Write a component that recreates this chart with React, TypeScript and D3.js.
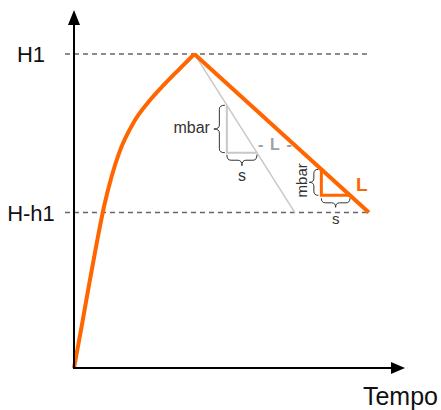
import React from 'react';
import * as d3 from 'd3';

// rise curve (time, pressure)
const riseTime = [0, 0.25, 0.5, 0.75, 1.0, 1.25, 1.5, 2.0, 2.5, 3.0, 3.5, 4.0];
const risePressure = [0, 1.3, 2.65, 3.95, 5.15, 6.1, 6.85, 7.85, 8.5, 9.03, 9.52, 10.0];

// straight decay (orange) and steeper reference decay (gray)
const decayTime = [4.0, 9.8];
const decayPressure = [10.0, 4.95];
const refTime = [4.0, 7.34];
const refPressure = [10.0, 4.95];

// horizontal reference levels
const levelLabels = ['H1', 'H-h1'];
const levelValues = [10.0, 4.95];

// slope triangles: start time and width "s" along each line
const triStart = [5.08, 8.22];
const triWidth = [1.0, 0.95];

const W = 441;
const H = 410;
const FONT = '"Liberation Sans", Arial, sans-serif';
const ORANGE = '#ff6600';

const x = d3.scaleLinear().domain([0, 11]).range([74, 405]);
const y = d3.scaleLinear().domain([0, 11.4]).range([368, 10]);

// curly brace from p1 to p2; bulges to the right of the p1->p2 direction
function brace(x1: number, y1: number, x2: number, y2: number, depth: number) {
  const dx = x2 - x1;
  const dy = y2 - y1;
  const len = Math.hypot(dx, dy);
  const ux = dx / len;
  const uy = dy / len;
  const nx = -uy;
  const ny = ux;
  const h = depth / 2;
  const r = Math.min(4, len / 6);
  const p = (u: number, v: number) => `${x1 + ux * u + nx * v},${y1 + uy * u + ny * v}`;
  return [
    `M${p(0, 0)}`,
    `Q${p(0, h)} ${p(r, h)}`,
    `L${p(len / 2 - r, h)}`,
    `Q${p(len / 2, h)} ${p(len / 2, depth)}`,
    `Q${p(len / 2, h)} ${p(len / 2 + r, h)}`,
    `L${p(len - r, h)}`,
    `Q${p(len, h)} ${p(len, 0)}`,
  ].join(' ');
}

function lineAt(times: number[], vals: number[], t: number) {
  const k = (vals[1] - vals[0]) / (times[1] - times[0]);
  return vals[0] + (t - times[0]) * k;
}

export default function App() {
  const riseLine = d3
    .line<number>()
    .x((_, i) => x(riseTime[i]))
    .y((d) => y(d))
    .curve(d3.curveMonotoneX);

  const straight = (ts: number[], vs: number[]) =>
    d3.line<number>().x((_, i) => x(ts[i])).y((d) => y(d))(vs) || '';

  const axisX0 = x(0);
  const axisY0 = y(0);
  const topY = y(11.4);
  const rightX = x(11);

  // gray triangle on the reference line
  const g0 = triStart[0];
  const g1 = g0 + triWidth[0];
  const gTop = lineAt(refTime, refPressure, g0);
  const gBot = lineAt(refTime, refPressure, g1);
  // orange triangle on the decay line
  const o0 = triStart[1];
  const o1 = o0 + triWidth[1];
  const oTop = lineAt(decayTime, decayPressure, o0);
  const oBot = lineAt(decayTime, decayPressure, o1);

  return (
    <svg
      width={W}
      height={H}
      style={{ position: 'absolute', left: 0, top: 0, background: '#fff' }}
      fontFamily={FONT}
    >
      {/* level lines */}
      {levelValues.map((v, i) => (
        <g key={levelLabels[i]}>
          <line
            x1={x(-0.3)}
            x2={x(9.83)}
            y1={y(v)}
            y2={y(v)}
            stroke="#666"
            strokeWidth={1.5}
            strokeDasharray="5 4"
          />
          <text x={x(-1.43)} y={y(v) + 8} textAnchor="middle" fontSize={22} fill="#111">
            {levelLabels[i]}
          </text>
        </g>
      ))}

      {/* reference (gray) decay */}
      <path d={straight(refTime, refPressure)} stroke="#c8c8c8" strokeWidth={1.5} fill="none" />
      <path
        d={`M${x(g0)},${y(gTop)} L${x(g0)},${y(gBot)} L${x(g1)},${y(gBot)}`}
        stroke="#c8c8c8"
        strokeWidth={2}
        fill="none"
      />
      <path d={brace(x(g0) - 2, y(gTop), x(g0) - 2, y(gBot), 11)} stroke="#333" strokeWidth={1} fill="none" />
      <path d={brace(x(g0), y(gBot) + 2, x(g1), y(gBot) + 2, 11)} stroke="#333" strokeWidth={1} fill="none" />
      <text x={x(g0) - 17} y={(y(gTop) + y(gBot)) / 2 + 4} textAnchor="end" fontSize={16} fill="#333">
        mbar
      </text>
      <text x={(x(g0) + x(g1)) / 2} y={y(gBot) + 28} textAnchor="middle" fontSize={16} fill="#333">
        s
      </text>
      <text
        x={x(g1) + 1}
        y={y(gBot) - 3}
        fontSize={16}
        fontWeight="bold"
        fill="#a0a0a0"
        textLength={34}
        lengthAdjust="spacing"
      >
        -L-
      </text>

      {/* measured (orange) curve */}
      <path d={riseLine(risePressure) || ''} stroke={ORANGE} strokeWidth={4} fill="none" strokeLinejoin="round" />
      <path d={straight(decayTime, decayPressure)} stroke={ORANGE} strokeWidth={4} fill="none" />
      <path
        d={`M${x(o0)},${y(oTop)} L${x(o0)},${y(oBot)} L${x(o1)},${y(oBot)}`}
        stroke={ORANGE}
        strokeWidth={3}
        fill="none"
      />
      <path d={brace(x(o0) - 3, y(oTop), x(o0) - 3, y(oBot), 9)} stroke="#333" strokeWidth={1} fill="none" />
      <path d={brace(x(o0), y(oBot) + 3, x(o1), y(oBot) + 3, 9)} stroke="#333" strokeWidth={1} fill="none" />
      <text
        transform={`translate(${x(o0) - 14},${(y(oTop) + y(oBot)) / 2 - 2}) rotate(-90)`}
        textAnchor="middle"
        fontSize={15}
        fill="#333"
      >
        mbar
      </text>
      <text x={(x(o0) + x(o1)) / 2} y={y(oBot) + 29} textAnchor="middle" fontSize={15} fill="#333">
        s
      </text>
      <text x={x(o1) + 6} y={y(oBot) - 4} fontSize={19} fontWeight="bold" fill={ORANGE}>
        L
      </text>

      {/* axes with arrowheads */}
      <line x1={axisX0} x2={axisX0} y1={axisY0 + 1} y2={topY + 12} stroke="#000" strokeWidth={2} />
      <polygon
        points={`${axisX0},${topY} ${axisX0 - 6},${topY + 15} ${axisX0 + 6},${topY + 15}`}
        fill="#000"
      />
      <line x1={axisX0 - 1} x2={rightX - 12} y1={axisY0} y2={axisY0} stroke="#000" strokeWidth={2} />
      <polygon
        points={`${rightX},${axisY0} ${rightX - 14},${axisY0 - 6} ${rightX - 14},${axisY0 + 6}`}
        fill="#000"
      />
      <text x={438} y={405} textAnchor="end" fontSize={25} fill="#111">
        Tempo
      </text>
    </svg>
  );
}
